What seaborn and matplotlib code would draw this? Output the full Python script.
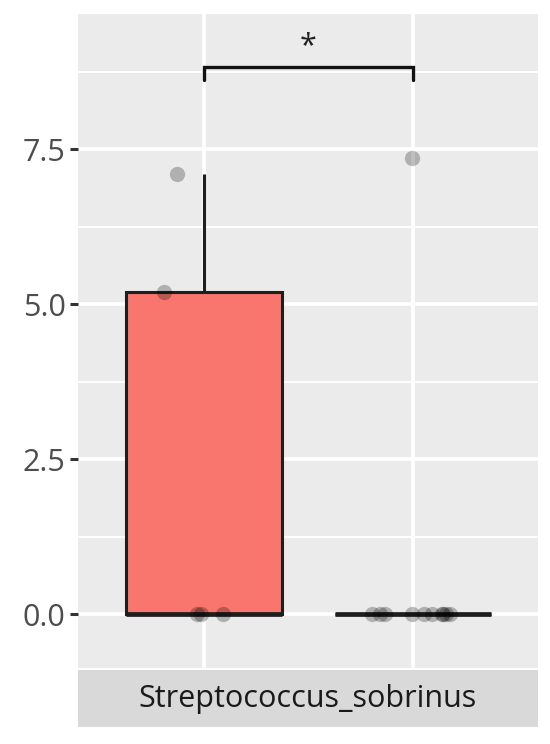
import numpy as np
import pandas as pd
import matplotlib
matplotlib.use('Agg')
import matplotlib.pyplot as plt
import seaborn as sns

# values
groups = ['Group_1', 'Group_2']
group1_values = [7.1, 5.2, 0.0, 0.0, 0.0]
group2_values = [7.35, 0.0, 0.0, 0.0, 0.0, 0.0, 0.0, 0.0, 0.0, 0.0, 0.0]
taxon = 'Streptococcus_sobrinus'
signif_label = '*'
y_ticks = [0.0, 2.5, 5.0, 7.5]
y_minor = [-1.25, 1.25, 3.75, 6.25, 8.75]
bracket_y = 8.82
palette = ['#F8766D', '#00BFC4']

df = pd.DataFrame({
    'group': [groups[0]] * len(group1_values) + [groups[1]] * len(group2_values),
    'value': group1_values + group2_values,
})

sns.set_theme(style='white')
plt.rcParams['font.family'] = ['Open Sans', 'DejaVu Sans']

fig = plt.figure(figsize=(5.5, 7.44), dpi=100)
ax = fig.add_axes([78 / 550, (744 - 668) / 744, 460 / 550, 654 / 744])
ax.set_facecolor('#EBEBEB')
for s in ax.spines.values():
    s.set_visible(False)

ax.set_axisbelow(True)
for y in y_minor:
    ax.axhline(y, color='white', lw=1.4, zorder=0)
for y in y_ticks:
    ax.axhline(y, color='white', lw=2.6, zorder=0)
for x in range(len(groups)):
    ax.axvline(x, color='white', lw=2.6, zorder=0)

sns.boxplot(data=df, x='group', y='value', hue='group', palette=palette,
            order=groups, width=0.75, linecolor='#1E1E1E', linewidth=2.2,
            saturation=1, showfliers=False, showcaps=False, whis=1.5,
            legend=False, ax=ax, medianprops={'linewidth': 3.4})

np.random.seed(11)
sns.stripplot(data=df, x='group', y='value', order=groups, color='black',
              alpha=0.25, size=11, jitter=0.2, linewidth=0, ax=ax, zorder=5)

ax.plot([0, 0, 1, 1], [bracket_y - 0.21, bracket_y, bracket_y, bracket_y - 0.21],
        color='#111111', lw=2.4, solid_joinstyle='miter')
ax.text(0.5, bracket_y + 0.1, signif_label, ha='center', va='bottom',
        fontsize=22, color='#222222')

ax.set_xlim(-0.603, 1.598)
ax.set_ylim(-0.87, 9.68)
ax.set_yticks(y_ticks)
ax.set_yticklabels([f'{t:.1f}' for t in y_ticks])
ax.set_xticks([])
ax.tick_params(axis='y', which='major', left=True, length=6, width=2.2,
               color='#333333', labelcolor='#4D4D4D', labelsize=22, pad=3)
ax.set_xlabel('')
ax.set_ylabel('')

strip = fig.add_axes([78 / 550, (744 - 727) / 744, 460 / 550, 57 / 744])
strip.set_facecolor('#D9D9D9')
for s in strip.spines.values():
    s.set_visible(False)
strip.set_xticks([])
strip.set_yticks([])
strip.text(0.5, 0.5, taxon, ha='center', va='center', fontsize=22,
           color='#1A1A1A', transform=strip.transAxes)

fig.savefig('out.png', dpi=100)
